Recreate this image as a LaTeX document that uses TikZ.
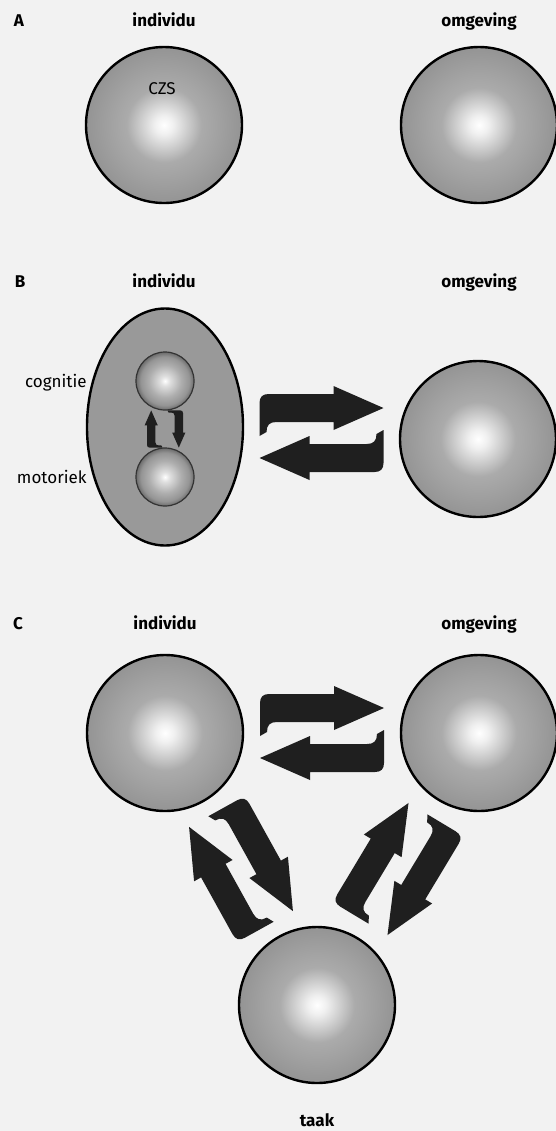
\documentclass[tikz,border=0pt]{standalone}
\usepackage{fontspec}
\setmainfont{Fira Sans}
\usetikzlibrary{calc, shapes.geometric}

\pgfdeclareradialshading{globe}{\pgfpoint{0bp}{0bp}}{color(0bp)=(white); color(3bp)=(black!6); color(12bp)=(black!33); color(25bp)=(black!42); color(50bp)=(black!42)}
\pgfdeclareradialshading{bead}{\pgfpoint{0bp}{0bp}}{color(0bp)=(white); color(4bp)=(black!12); color(14bp)=(black!32); color(21bp)=(black!42); color(25bp)=(black!58); color(50bp)=(black!58)}

% one hooked arrow, tail left, tip right, hook below
\newcommand\hookarrow[1]{%
	\fill[arrowfill, #1] (62,0) -- (12,-22) -- (12,-14) -- (-53,-14)
		.. controls (-59,-14) and (-62,-11) .. (-62,-5)
		-- (-62,{14+\swaphook}) -- (-55,{10+\swaphook})
		.. controls (-55,17) and (-52,14) .. (-45,14)
		-- (12,14) -- (12,22) -- cycle;}

\begin{document}
\begin{tikzpicture}[x=0.5pt, y=-0.5pt,
		every node/.style={font=\fontsize{8.5}{10}\selectfont, inner sep=0pt},
		head/.style={font=\fontsize{8.5}{10}\selectfont\bfseries, anchor=base},
		globe/.style={circle, draw, line width=1.2pt, shading=globe, minimum size=78pt},
		bead/.style={circle, draw=black!80, line width=0.6pt, shading=bead, minimum size=29pt},
		arrowfill/.style={fill=black!88},
		swap gap/.store in=\swapgap, swap hook/.store in=\swaphook,
		swap gap=25, swap hook=14,
		pics/swap/.style={code={
			\hookarrow{shift={(0,-\swapgap)}}
			\hookarrow{rotate=180, shift={(0,-\swapgap)}}
		}}]
	\fill[black!5] (0,0) rectangle (556,1131);
	\useasboundingbox (0,0) rectangle (556,1131);

	% A
	\node[head] (tagA) at (19,26) {A};
	\node[head] (labindA) at (164,26) {individu};
	\node[head] (labomgA) at (479,26) {omgeving};
	\node[globe] (indA) at (164,125) {};
	\node[globe] (omgA) at (479,125) {};
	\node[anchor=base] (czs) at (162,94) {CZS};

	% B
	\node[head] (tagB) at (20,287) {B};
	\node[head] (labindB) at (164,287) {individu};
	\node[head] (labomgB) at (479,287) {omgeving};
	\node[ellipse, draw, line width=1.2pt, fill=black!40, minimum width=78pt, minimum height=118.5pt] (indB) at (165,427) {};
	\node[globe] (omgB) at (478,439) {};
	\node[bead] (cog) at (165,381) {};
	\node[bead] (mot) at (165,477) {};
	\node[anchor=base east] (labcog) at (87,387) {cognitie};
	\node[anchor=base east] (labmot) at (87,483) {motoriek};
	\pic at ($(indB)!.5!(omgB)$) {swap};
	\pic[scale=.3, swap gap=46, swap hook=24, rotate=90] at ($(mot)!.5!(cog)$) {swap};

	% C
	\node[head] (tagC) at (18,629) {C};
	\node[head] (labindC) at (165,629) {individu};
	\node[head] (labomgC) at (479,629) {omgeving};
	\node[globe] (indC) at (165,733) {};
	\node[globe] (omgC) at (479,733) {};
	\node[globe] (taak) at (317,1005) {};
	\node[head] (labtaak) at (317,1126) {taak};
	\pic at ($(indC)!.5!(omgC)$) {swap};
	\pic[rotate=-61] at ($(indC)!.5!(taak)$) {swap};
	\pic[rotate=59] at ($(taak)!.5!(omgC)$) {swap};
\end{tikzpicture}
\end{document}
